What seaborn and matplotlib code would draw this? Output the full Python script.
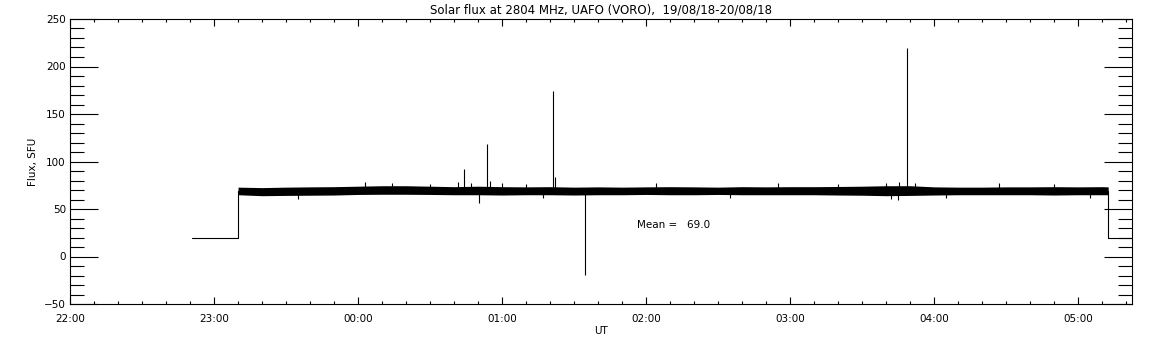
import numpy as np
import pandas as pd
import matplotlib
matplotlib.use('Agg')
import matplotlib.pyplot as plt
import seaborn as sns
from matplotlib.ticker import MultipleLocator

# --- data (times UT, flux in SFU) ---
# level outside the observing window and the steps in/out of it
pre_times = ['22:50:50', '23:10:00', '23:10:00']
pre_values = [20, 20, 69]
post_times = ['05:12:30', '05:12:30', '05:22:25']
post_values = [69, 20, 20]

# envelope of the noisy record, every 10 min
band_times = ['23:10', '23:20', '23:30', '23:40', '23:50', '00:00', '00:10', '00:20',
              '00:30', '00:40', '00:50', '01:00', '01:10', '01:20', '01:30', '01:40',
              '01:50', '02:00', '02:10', '02:20', '02:30', '02:40', '02:50', '03:00',
              '03:10', '03:20', '03:30', '03:40', '03:50', '04:00', '04:10', '04:20',
              '04:30', '04:40', '04:50', '05:00', '05:10', '05:12:30']
band_upper = [73.0, 72.5, 73.0, 73.3, 73.5, 74.0, 74.5, 74.5, 74.0, 73.5, 74.0, 73.5,
              73.3, 73.5, 73.0, 73.3, 73.0, 73.3, 73.5, 73.3, 73.0, 73.5, 73.3, 73.5,
              73.5, 73.7, 74.0, 74.5, 74.5, 73.3, 73.0, 73.0, 73.3, 73.3, 73.5, 73.3,
              73.5, 73.3]
band_lower = [65.0, 64.0, 64.3, 64.5, 64.7, 65.3, 65.5, 65.5, 65.3, 65.0, 65.0, 64.7,
              65.0, 65.0, 64.7, 65.0, 65.0, 65.3, 65.0, 65.0, 65.3, 65.0, 65.0, 65.0,
              65.0, 64.7, 64.5, 64.0, 64.3, 64.7, 65.0, 65.0, 65.0, 65.0, 64.7, 65.0,
              65.0, 65.0]

# spikes and small excursions from the mean level
spike_times = ['00:03:00', '00:44:20', '00:50:30', '00:53:50', '00:55:00', '01:00:00',
               '01:21:25', '01:22:00', '01:34:40', '03:45:00', '03:45:30', '03:48:30',
               '03:52:00', '00:41:30', '02:55:00', '04:27:00', '00:14:00', '02:04:00',
               '23:35:00', '00:30:00', '01:10:00', '02:35:00', '03:20:00', '03:42:00',
               '04:05:00', '04:50:00', '05:05:00', '00:47:00', '01:17:00', '03:40:00']
spike_values = [78, 92, 56.6, 118.5, 80, 77, 174.5, 84, -19.5, 59.5, 78.5, 219.5,
                77, 78, 77, 77, 77, 77,
                61, 76.5, 76.5, 61.5, 76.5, 61, 61.5, 76.5, 61.5, 77, 61.5, 77]

mean_value = 69.0

x_tick_labels = ['22:00', '23:00', '00:00', '01:00', '02:00', '03:00', '04:00', '05:00']


def to_hours(s):
    parts = [int(p) for p in s.split(':')]
    while len(parts) < 3:
        parts.append(0)
    return (parts[0] - 22) % 24 + parts[1] / 60 + parts[2] / 3600


pre = pd.DataFrame({'t': [to_hours(s) for s in pre_times], 'flux': pre_values})
post = pd.DataFrame({'t': [to_hours(s) for s in post_times], 'flux': post_values})
band = pd.DataFrame({'t': [to_hours(s) for s in band_times],
                     'upper': band_upper, 'lower': band_lower})
spikes = pd.DataFrame({'t': [to_hours(s) for s in spike_times], 'flux': spike_values})

sns.set_style('white')
plt.rcParams['font.family'] = ['DejaVu Sans']
plt.rcParams['text.color'] = 'black'
plt.rcParams['axes.labelcolor'] = 'black'
plt.rcParams['xtick.color'] = 'black'
plt.rcParams['ytick.color'] = 'black'

fig = plt.figure(figsize=(11.52, 3.45), dpi=100)
ax = fig.add_axes([70 / 1152, 1 - 304 / 345, (1132 - 70) / 1152, (304 - 19) / 345])

lw = 0.8
sns.lineplot(data=pre, x='t', y='flux', ax=ax, color='black', lw=lw, sort=False,
             estimator=None)
sns.lineplot(data=post, x='t', y='flux', ax=ax, color='black', lw=lw, sort=False,
             estimator=None)
ax.fill_between(band['t'], band['lower'], band['upper'], color='black', lw=0)
ax.vlines(spikes['t'], mean_value, spikes['flux'], color='black', lw=lw)

ax.text(to_hours('01:56'), 33, 'Mean =   %.1f' % mean_value, fontsize=7.5, va='center')

ax.set_xlim(0, to_hours('05:22:25'))
ax.set_ylim(-50, 250)
ax.set_xticks(range(len(x_tick_labels)))
ax.set_xticklabels(x_tick_labels)
ax.xaxis.set_minor_locator(MultipleLocator(1 / 6))
ax.yaxis.set_major_locator(MultipleLocator(50))
ax.yaxis.set_minor_locator(MultipleLocator(10))

ax.tick_params(axis='x', which='major', direction='in', length=5, width=0.8,
               top=True, bottom=True, labelsize=7.5, pad=7)
ax.tick_params(axis='x', which='minor', direction='in', length=2.5, width=0.8,
               top=True, bottom=True)
ax.tick_params(axis='y', which='major', direction='in', length=20, width=0.8,
               left=True, right=True, labelsize=7.5, pad=3)
ax.tick_params(axis='y', which='minor', direction='in', length=10, width=0.8,
               left=True, right=True)
for sp in ax.spines.values():
    sp.set_color('black')
    sp.set_linewidth(0.8)

ax.set_xlabel('UT', fontsize=7.5, labelpad=2)
ax.set_ylabel('Flux, SFU', fontsize=7.5, labelpad=4)
ax.set_title('Solar flux at 2804 MHz, UAFO (VORO),  19/08/18-20/08/18', fontsize=8.5, pad=4)

fig.savefig('out.png', dpi=100)
